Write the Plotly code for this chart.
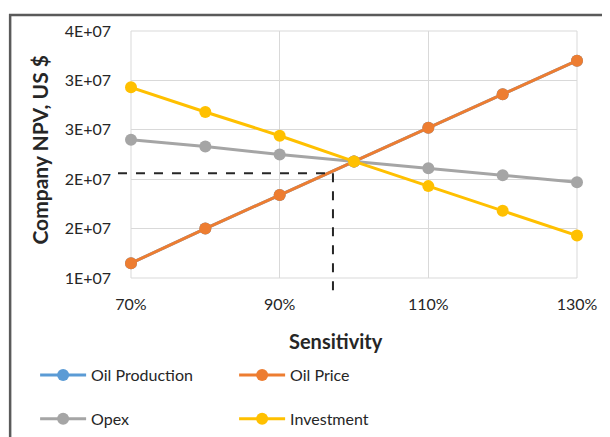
import plotly.graph_objects as go

# sensitivity factors (x) and company NPV in US $ per series
sensitivity = [0.7, 0.8, 0.9, 1.0, 1.1, 1.2, 1.3]
oil_production = [1.15e7, 1.50e7, 1.84e7, 2.18e7, 2.52e7, 2.86e7, 3.20e7]
oil_price = [1.15e7, 1.50e7, 1.84e7, 2.18e7, 2.52e7, 2.86e7, 3.20e7]
opex = [2.40e7, 2.33e7, 2.25e7, 2.18e7, 2.11e7, 2.04e7, 1.97e7]
investment = [2.93e7, 2.68e7, 2.44e7, 2.18e7, 1.93e7, 1.68e7, 1.43e7]

x_tick_vals = [0.7, 0.9, 1.1, 1.3]
x_tick_text = ["70%", "90%", "110%", "130%"]
y_tick_vals = [1.0e7, 1.5e7, 2.0e7, 2.5e7, 3.0e7, 3.5e7]
y_tick_text = ["1E+07", "2E+07", "2E+07", "3E+07", "3E+07", "4E+07"]

# break-even guide (sensitivity, NPV) and how far the guide reaches outside the axes
guide_x = 0.9717
guide_y = 2.06e7
guide_bottom = 8.3e6
guide_left = 0.6825

X_RANGE = [0.7, 1.3]
Y_RANGE = [1.0e7, 3.5e7]

FONT = "Lato, 'Noto Sans', sans-serif"
TEXT = "#262626"

series = [
    ("Oil Production", oil_production, "#5B9BD5", "legend"),
    ("Oil Price", oil_price, "#ED7D31", "legend"),
    ("Opex", opex, "#A5A5A5", "legend2"),
    ("Investment", investment, "#FFC000", "legend2"),
]

fig = go.Figure()
for name, vals, color, leg in series:
    fig.add_trace(go.Scatter(
        x=sensitivity, y=vals, name=name, mode="lines+markers",
        line=dict(color=color, width=3),
        marker=dict(color=color, size=12),
        legend=leg, cliponaxis=False,
    ))


def px(v):
    return (v - X_RANGE[0]) / (X_RANGE[1] - X_RANGE[0])


def py(v):
    return (v - Y_RANGE[0]) / (Y_RANGE[1] - Y_RANGE[0])


dash = dict(color="#262626", width=2, dash="dash")
fig.add_shape(type="line", xref="paper", yref="paper",
              x0=px(guide_left), x1=px(guide_x), y0=py(guide_y), y1=py(guide_y), line=dash)
fig.add_shape(type="line", xref="paper", yref="paper",
              x0=px(guide_x), x1=px(guide_x), y0=py(guide_y), y1=py(guide_bottom), line=dash)

# chart frame (cropped on the right and bottom)
fig.add_shape(type="rect", xref="paper", yref="paper",
              x0=-0.271, x1=1.5, y0=-1.5, y1=1.065,
              line=dict(color="#5a5a5a", width=2.5), layer="below")
# close the plot box on the top and right like the gridlines
fig.add_shape(type="rect", xref="paper", yref="paper", x0=0, x1=1, y0=0, y1=1,
              line=dict(color="#D9D9D9", width=1), layer="below")

fig.add_annotation(text="<b>Company NPV, US $</b>", xref="paper", yref="paper",
                   x=-0.204, y=0.52, xanchor="center", yanchor="middle",
                   textangle=-90, showarrow=False,
                   font=dict(size=21, color=TEXT, family=FONT))
fig.add_annotation(text="<b>Sensitivity</b>", xref="paper", yref="paper",
                   x=0.46, y=-0.255, xanchor="center", yanchor="middle",
                   showarrow=False,
                   font=dict(size=20, color=TEXT, family=FONT))

legend_style = dict(orientation="h", xanchor="left", yanchor="middle",
                    entrywidth=138, itemwidth=46, bgcolor="rgba(0,0,0,0)",
                    font=dict(size=16, color=TEXT, family=FONT))

# the page body adds 8px on the left and top, so margins are trimmed by that much
fig.update_layout(
    width=610, height=437,
    margin=dict(l=123, r=41, t=23, b=167, autoexpand=False),
    plot_bgcolor="white", paper_bgcolor="white",
    font=dict(family=FONT, size=16, color=TEXT),
    xaxis=dict(range=X_RANGE, tickvals=x_tick_vals, ticktext=x_tick_text,
               showgrid=True, gridcolor="#D9D9D9", gridwidth=1,
               zeroline=False, showline=False, ticks="", ticklabelstandoff=15,
               tickfont=dict(size=16, color=TEXT)),
    yaxis=dict(range=Y_RANGE, tickvals=y_tick_vals, ticktext=y_tick_text,
               showgrid=True, gridcolor="#D9D9D9", gridwidth=1,
               zeroline=False, showline=False, ticks="", ticklabelstandoff=19,
               tickfont=dict(size=16, color=TEXT)),
    legend=dict(x=-0.215, y=-0.393, **legend_style),
    legend2=dict(x=-0.215, y=-0.57, **legend_style),
    showlegend=True,
)

fig.write_html("out.html")
